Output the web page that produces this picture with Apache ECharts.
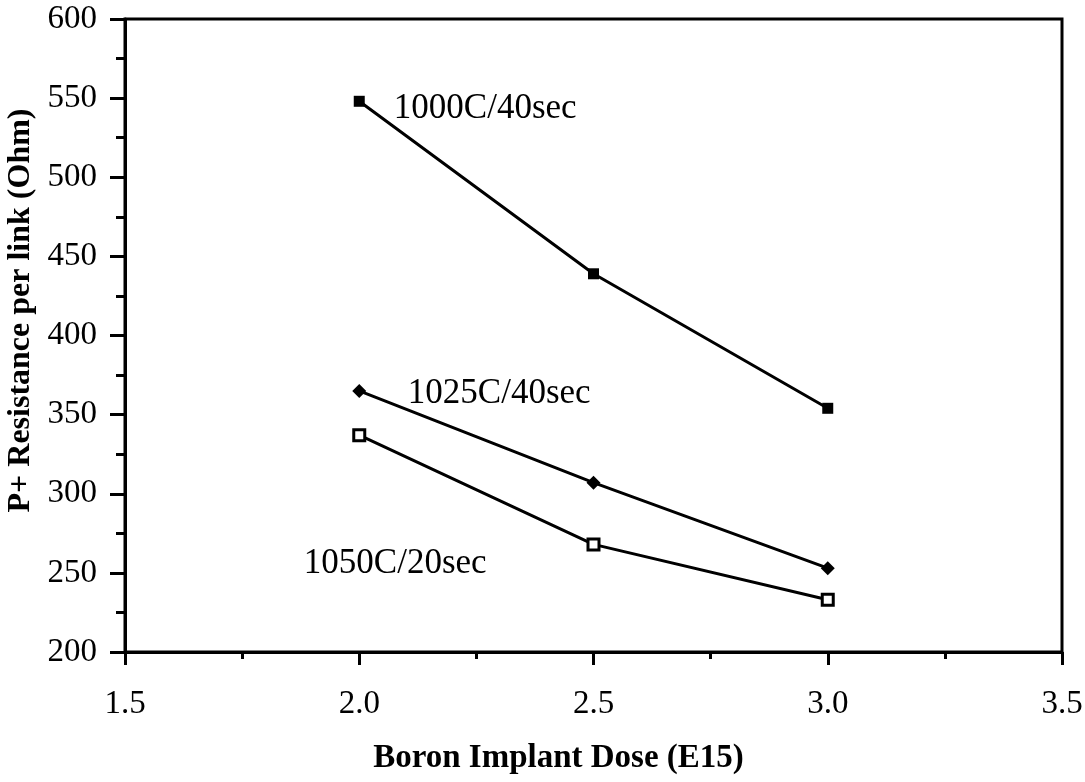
<!DOCTYPE html>
<html>
<head>
<meta charset="utf-8">
<script src="https://cdn.jsdelivr.net/npm/echarts@6/dist/echarts.min.js"></script>
<style>html,body{margin:0;padding:0;background:#fff}#c{width:1085px;height:782px}</style>
</head>
<body>
<div id="c"></div>
<script>
const doses = [2.0, 2.5, 3.0];
const s1000 = [548, 439, 354];
const s1025 = [365, 307, 253];
const s1050 = [337, 268, 233];
const seriesNames = ['1000C/40sec', '1025C/40sec', '1050C/20sec'];
const xTicks = [1.5, 2.0, 2.5, 3.0, 3.5];
const yTicks = [200, 250, 300, 350, 400, 450, 500, 550, 600];

const FONT = '"Liberation Serif", "Times New Roman", serif';
const chart = echarts.init(document.getElementById('c'), null, {renderer: 'canvas'});

function pairs(vals) { return doses.map((d, i) => [d, vals[i]]); }
function withLabel(vals, name, offset) {
  const data = pairs(vals).map(p => ({value: p}));
  data[0].label = {
    show: true, position: 'inside', offset: offset, formatter: name,
    color: '#000', fontFamily: FONT, fontSize: 35
  };
  return data;
}

chart.setOption({
  animation: false,
  backgroundColor: '#fff',
  grid: {left: 125, right: 23, top: 19, bottom: 130, show: true, borderColor: '#000', borderWidth: 3,
         containLabel: false, outerBoundsMode: 'none'},
  xAxis: {
    type: 'value', min: xTicks[0], max: xTicks[xTicks.length - 1], interval: 0.5,
    name: 'Boron Implant Dose (E15)', nameLocation: 'middle', nameGap: 90,
    nameTextStyle: {fontFamily: FONT, fontWeight: 'bold', fontSize: 33, color: '#000', padding: [0, 70, 0, 0]},
    axisLine: {lineStyle: {color: '#000', width: 3}},
    axisTick: {inside: false, length: 13, lineStyle: {color: '#000', width: 3}},
    minorTick: {show: true, splitNumber: 2, length: 7, lineStyle: {color: '#000', width: 3}},
    axisLabel: {margin: 36, fontFamily: FONT, fontSize: 33, color: '#000', formatter: v => v.toFixed(1)},
    splitLine: {show: false}
  },
  yAxis: {
    type: 'value', min: yTicks[0], max: yTicks[yTicks.length - 1], interval: 50,
    name: 'P+ Resistance per link (Ohm)', nameLocation: 'middle', nameGap: 83,
    nameTextStyle: {fontFamily: FONT, fontWeight: 'bold', fontSize: 32, color: '#000', padding: [0, 0, 0, 50]},
    axisLine: {lineStyle: {color: '#000', width: 3}},
    axisTick: {inside: false, length: 15, lineStyle: {color: '#000', width: 3}},
    minorTick: {show: true, splitNumber: 2, length: 9, lineStyle: {color: '#000', width: 3}},
    axisLabel: {margin: 28, fontFamily: FONT, fontSize: 33, color: '#000'},
    splitLine: {show: false}
  },
  series: [
    {
      name: seriesNames[0], type: 'line', data: withLabel(s1000, seriesNames[0], [126, 8]),
      symbol: 'rect', symbolSize: 11, lineStyle: {color: '#000', width: 3},
      itemStyle: {color: '#000'}
    },
    {
      name: seriesNames[1], type: 'line', data: withLabel(s1025, seriesNames[1], [140, 3]),
      symbol: 'diamond', symbolSize: 14, lineStyle: {color: '#000', width: 3},
      itemStyle: {color: '#000'}
    },
    {
      name: seriesNames[2], type: 'line', data: withLabel(s1050, seriesNames[2], [36, 129]),
      symbol: 'rect', symbolSize: 11, lineStyle: {color: '#000', width: 3},
      itemStyle: {color: '#fff', borderColor: '#000', borderWidth: 3}
    }
  ]
});
</script>
</body>
</html>
